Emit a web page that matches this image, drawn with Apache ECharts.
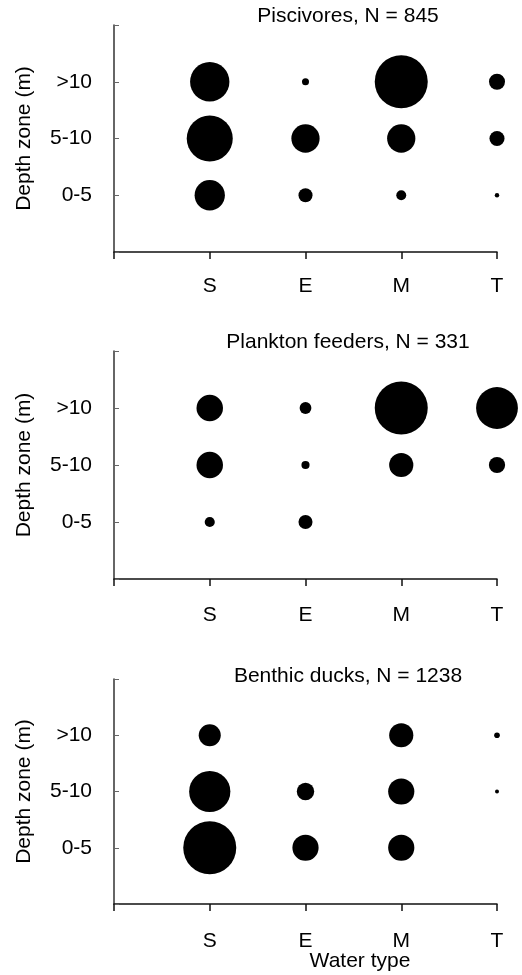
<!DOCTYPE html>
<html>
<head>
<meta charset="utf-8">
<script src="https://cdn.jsdelivr.net/npm/echarts@6/dist/echarts.min.js"></script>
<style>
html,body{margin:0;padding:0;background:#fff;}
#chart{width:522px;height:975px;}
</style>
</head>
<body>
<div id="chart"></div>
<script>
// Categories
var waterTypes = ['S', 'E', 'M', 'T'];          // x = 1..4
var depthZones = ['0-5', '5-10', '>10'];        // y = 1..3
var panelTitles = ['Piscivores, N = 845', 'Plankton feeders, N = 331', 'Benthic ducks, N = 1238'];

// Share of birds (%) per cell, rows = depth zone [0-5, 5-10, >10], columns = water type [S, E, M, T]; null = none
var piscivores_0_5   = [9.3, 2.0, 1.0, 0.2];
var piscivores_5_10  = [21.5, 8.1, 8.1, 2.3];
var piscivores_gt10  = [15.7, 0.5, 28.5, 2.6];

var plankton_0_5     = [1.4, 2.7, null, null];
var plankton_5_10    = [9.6, 0.9, 8.0, 3.6];
var plankton_gt10    = [9.6, 1.9, 38.4, 23.9];

var benthic_0_5      = [35.2, 8.6, 8.6, null];
var benthic_5_10     = [21.3, 3.8, 8.6, 0.2];
var benthic_gt10     = [6.1, null, 7.3, 0.4];

var panels = [
  [piscivores_0_5, piscivores_5_10, piscivores_gt10],
  [plankton_0_5, plankton_5_10, plankton_gt10],
  [benthic_0_5, benthic_5_10, benthic_gt10]
];

// layout
var grids = [
  {left: 114, width: 383, top: 25, height: 227},
  {left: 114, width: 383, top: 351, height: 228},
  {left: 114, width: 383, top: 679, height: 225}
];
var titleTops = [1, 327, 661];
var xLabelMargins = [24, 26, 27];
var maxDiameter = 53;
var FONT = 'Liberation Sans, Arial, sans-serif';
var FS = 21;

var option = {
  backgroundColor: '#fff',
  animation: false,
  title: [],
  grid: [],
  xAxis: [],
  yAxis: [],
  series: []
};

panels.forEach(function (rows, p) {
  var g = grids[p];
  option.grid.push({left: g.left, width: g.width, top: g.top, height: g.height});
  option.title.push({
    text: panelTitles[p],
    left: 343, top: titleTops[p], textAlign: 'center',
    textStyle: {fontFamily: FONT, fontSize: FS, fontWeight: 'normal', color: '#000'}
  });
  option.xAxis.push({
    type: 'value', gridIndex: p, min: 0, max: 4, interval: 1,
    splitLine: {show: false},
    axisLine: {show: true, onZero: false, lineStyle: {color: '#111', width: 1.5}},
    axisTick: {show: true, inside: false, length: 7, lineStyle: {color: '#111', width: 1.5}},
    axisLabel: {
      margin: xLabelMargins[p], fontFamily: FONT, fontSize: FS, color: '#000',
      formatter: function (v) { return v >= 1 && v <= 4 ? waterTypes[v - 1] : ''; }
    }
  });
  option.yAxis.push({
    type: 'value', gridIndex: p, min: 0, max: 4, interval: 1,
    name: 'Depth zone (m)', nameLocation: 'middle', nameGap: 79,
    nameTextStyle: {fontFamily: FONT, fontSize: FS, color: '#000'},
    splitLine: {show: false},
    axisLine: {show: true, onZero: false, lineStyle: {color: '#333', width: 1.5}},
    axisTick: {show: true, inside: true, length: 5, lineStyle: {color: '#666', width: 1}},
    axisLabel: {
      margin: 22, fontFamily: FONT, fontSize: FS, color: '#000',
      formatter: function (v) { return v >= 1 && v <= 3 ? depthZones[v - 1] : ''; }
    }
  });
  var maxVal = 0;
  rows.forEach(function (r) { r.forEach(function (v) { if (v != null && v > maxVal) maxVal = v; }); });
  var data = [];
  rows.forEach(function (r, yi) {
    r.forEach(function (v, xi) {
      if (v != null) data.push([xi + 1, yi + 1, v]);
    });
  });
  option.series.push({
    type: 'scatter', xAxisIndex: p, yAxisIndex: p,
    data: data,
    symbol: 'circle',
    symbolSize: function (d) { return maxDiameter * Math.sqrt(d[2] / maxVal); },
    itemStyle: {color: '#000', opacity: 1},
    z: 3
  });
});

option.title.push({
  text: 'Water type', left: 355, top: 946, textAlign: 'center',
  textStyle: {fontFamily: FONT, fontSize: FS, fontWeight: 'normal', color: '#000'}
});

var chart = echarts.init(document.getElementById('chart'), null, {renderer: 'canvas'});
chart.setOption(option);
</script>
</body>
</html>
